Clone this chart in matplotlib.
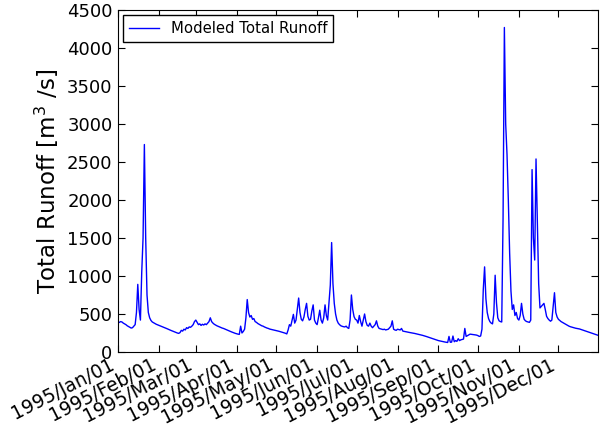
import matplotlib
matplotlib.use("Agg")
import matplotlib.pyplot as plt
import matplotlib.dates as mdates
import numpy as np
import pandas as pd

# daily modeled total runoff for 1995 [m3/s], one list per month
jan = [385, 390, 400, 395, 380, 370, 360, 345, 335, 325, 315, 320, 340, 360, 520, 890,
       560, 420, 1050, 1500, 2730, 1500, 750, 520, 450, 415, 395, 385, 375, 365, 358]
feb = [352, 345, 338, 330, 322, 315, 308, 300, 292, 285, 278, 270, 265, 258, 250, 245,
       255, 285, 275, 300, 290, 320, 310, 330, 325, 340, 360, 400]
mar = [420, 390, 360, 370, 350, 365, 355, 370, 360, 380, 400, 450, 400, 380, 365, 355,
       345, 338, 330, 322, 315, 310, 302, 295, 288, 280, 272, 265, 258, 250, 245]
apr = [240, 235, 232, 340, 250, 270, 300, 450, 690, 520, 460, 480, 430, 440, 400, 390,
       375, 365, 355, 345, 340, 330, 322, 315, 310, 302, 298, 294, 290, 286]
may = [282, 278, 273, 268, 262, 257, 252, 246, 238, 290, 360, 340, 420, 495, 380, 420,
       560, 710, 520, 430, 410, 460, 560, 640, 470, 420, 430, 540, 620, 420, 380]
jun = [360, 450, 550, 420, 380, 450, 620, 480, 420, 650, 880, 1440, 900, 640, 500, 420,
       380, 360, 345, 338, 333, 330, 340, 320, 310, 420, 750, 560, 465, 430]
jul = [420, 380, 480, 400, 340, 420, 500, 400, 350, 340, 380, 340, 320, 340, 360, 410,
       340, 310, 305, 300, 295, 300, 290, 295, 300, 320, 340, 410, 300, 290, 285]
aug = [300, 295, 290, 310, 275, 272, 268, 264, 260, 257, 254, 250, 247, 244, 240, 236,
       232, 228, 224, 219, 214, 208, 203, 197, 191, 185, 178, 172, 166, 160, 155]
sep = [150, 146, 141, 137, 134, 131, 128, 125, 205, 128, 130, 210, 135, 150, 140, 175,
       150, 160, 165, 170, 310, 205, 215, 225, 235, 232, 230, 228, 225, 222]
oct_ = [215, 205, 210, 300, 820, 1120, 700, 520, 440, 400, 380, 370, 500, 1010, 650, 450,
        410, 400, 395, 1750, 4270, 3000, 2600, 2000, 1300, 800, 560, 620, 480, 520, 440]
nov = [420, 480, 640, 500, 430, 410, 400, 395, 390, 420, 2400, 1500, 1210, 2540, 1700, 900,
       580, 600, 620, 640, 560, 470, 440, 420, 405, 420, 600, 780, 520, 460]
dec = [430, 415, 400, 390, 380, 370, 360, 350, 340, 333, 328, 322, 318, 313, 310, 308,
       303, 297, 290, 284, 278, 272, 266, 260, 254, 248, 243, 238, 232, 226, 220]

runoff = jan + feb + mar + apr + may + jun + jul + aug + sep + oct_ + nov + dec
dates = pd.date_range("1995-01-01", periods=len(runoff), freq="D")

plt.rcParams['font.family'] = 'DejaVu Sans'
fig = plt.figure(figsize=(6.08, 4.33), dpi=100, facecolor='white')
ax = fig.add_axes([118 / 608, 1 - 352 / 433, 480 / 608, 342 / 433])

ax.plot(dates, runoff, color='#0000ff', linewidth=1, label='Modeled Total Runoff')

ax.set_xlim(dates[0], dates[-1])
ax.set_ylim(0, 4500)
ax.set_yticks(np.arange(0, 4501, 500))
ax.xaxis.set_major_locator(mdates.MonthLocator())
ax.xaxis.set_major_formatter(mdates.DateFormatter('%Y/%b/%d'))
ax.tick_params(direction='in', top=True, right=True, length=5, labelsize=13, pad=4)
ax.tick_params(axis='x', labelsize=13.5, pad=2)
plt.setp(ax.get_xticklabels(), rotation=27, ha='right')
ax.set_ylabel('Total Runoff [m$^3$ /s]', fontsize=16.5)

leg = ax.legend(loc='upper left', fontsize=10.7, fancybox=False, framealpha=1,
                borderaxespad=0.35, handlelength=2.0)
leg.get_frame().set_edgecolor('black')

plt.savefig("out.png", dpi=100, facecolor='white')
